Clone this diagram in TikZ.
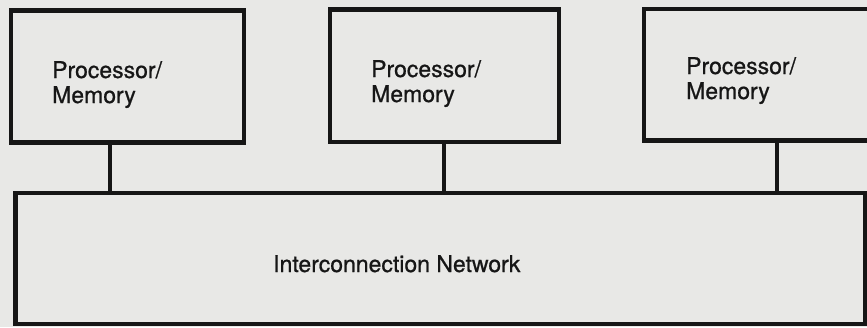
\documentclass[tikz,border=0pt]{standalone}
\usepackage{fontspec}
\setmainfont{TeX Gyre Heros}
\newfontfamily\lblfont{TeX Gyre Heros}[FakeBold=0.8]
\definecolor{paper}{RGB}{232,232,230}
\definecolor{ink}{RGB}{22,22,22}
\begin{document}
\begin{tikzpicture}[x=1pt,y=-1pt,
  box/.style={draw=ink,line width=4.2pt,inner sep=0pt,outer sep=0pt},
  link/.style={draw=ink,line width=3.2pt},
  lbl/.style={font=\lblfont\fontsize{23}{25}\selectfont,text=ink,align=left,inner sep=0pt,anchor=base west}]
\fill[paper] (0,0) rectangle (867,327);
\useasboundingbox (0,0) rectangle (867,327);
\clip (0,0) rectangle (867,327);
\node[box,minimum width=233pt,minimum height=132pt] (pm1) at (127.5,76.5) {};
\node[box,minimum width=229pt,minimum height=132.5pt] (pm2) at (444.5,75.75) {};
\node[box,minimum width=236pt,minimum height=131.5pt] (pm3) at (762,74.75) {};
\node[box,minimum width=849.5pt,minimum height=131pt] (net) at (440.25,258.5) {};
\coordinate (c1) at (110,0);
\coordinate (c2) at (444,0);
\coordinate (c3) at (777,0);
\draw[link] (c1 |- pm1.south) -- (c1 |- net.north);
\draw[link] (c2 |- pm2.south) -- (c2 |- net.north);
\draw[link] (c3 |- pm3.south) -- (c3 |- net.north);
\node[lbl] (t1) at (52,103) {Processor/\\Memory};
\node[lbl] (t2) at (371,102) {Processor/\\Memory};
\node[lbl] (t3) at (686,99) {Processor/\\Memory};
\node[lbl] (tn) at (273,272) {Interconnection Network};
\end{tikzpicture}
\end{document}
